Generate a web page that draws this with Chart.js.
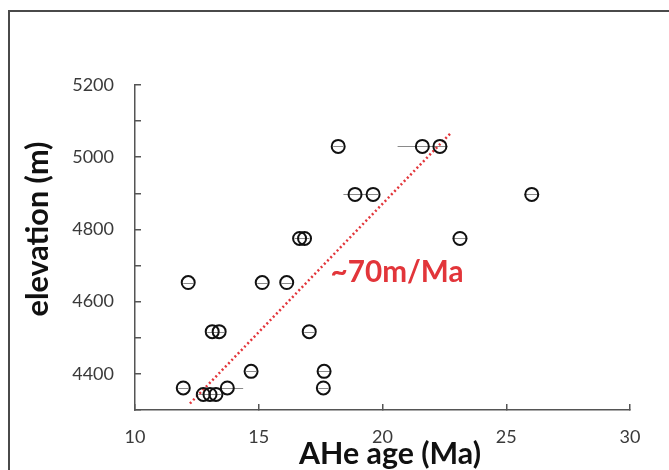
<!DOCTYPE html>
<html>
<head>
<meta charset="utf-8">
<script src="https://cdn.jsdelivr.net/npm/chart.js@4/dist/chart.umd.min.js"></script>
<style>
  html, body { margin: 0; padding: 0; background: #ffffff; }
  #wrap { width: 669px; height: 470px; position: relative; }
</style>
</head>
<body>
<div id="wrap"><canvas id="c" width="669" height="470"></canvas></div>
<script>
// ---- data ----
const ageMa      = [18.21, 21.61, 22.32, 18.89, 19.62, 26.03, 16.65, 16.85, 23.13, 12.15, 15.14, 16.13, 13.12, 13.40, 17.04, 14.69, 17.64, 11.95, 13.73, 17.61, 12.76, 13.03, 13.27];
const elevationM = [5030, 5030, 5030, 4897, 4897, 4897, 4775, 4775, 4775, 4653, 4653, 4653, 4517, 4517, 4517, 4407, 4407, 4361, 4361, 4361, 4343, 4343, 4343];
const ageErr     = [0.2, 1.0, 0.3, 0.47, 0.2, 0.3, 0.2, 0.2, 0.3, 0.2, 0.2, 0.2, 0.2, 0.2, 0.2, 0.2, 0.25, 0.2, 0.64, 0.2, 0.2, 0.2, 0.2];
const trendAge   = [12.22, 22.73];
const trendElev  = [4318, 5065];
const trendLabel = "~70m/Ma";
const xTitle = "AHe age (Ma)";
const yTitle = "elevation (m)";
const xTicks = [10, 15, 20, 25, 30];
const yLabelTicks = [4400, 4600, 4800, 5000, 5200];

const points = ageMa.map((x, i) => ({ x: x, y: elevationM[i] }));
const trend = trendAge.map((x, i) => ({ x: x, y: trendElev[i] }));

function fitFont(ctx, text, target, weight, family) {
  ctx.font = weight + " 100px " + family;
  const w = ctx.measureText(text).width;
  return 100 * target / w;
}

const frameAndText = {
  id: 'frameAndText',
  beforeDraw(chart) {
    const ctx = chart.ctx;
    ctx.save();
    ctx.fillStyle = '#ffffff';
    ctx.fillRect(0, 0, chart.width, chart.height);
    ctx.strokeStyle = '#4a4a4a';
    ctx.lineWidth = 2;
    ctx.strokeRect(9, 11, 700, 500);
    ctx.restore();
  },
  beforeDatasetsDraw(chart) {
    const ctx = chart.ctx;
    const xs = chart.scales.x, ys = chart.scales.y;
    ctx.save();
    ctx.strokeStyle = '#8a8a8a';
    ctx.lineWidth = 1;
    ageMa.forEach((x, i) => {
      const py = Math.round(ys.getPixelForValue(elevationM[i])) + 0.5;
      ctx.beginPath();
      ctx.moveTo(xs.getPixelForValue(x - ageErr[i]), py);
      ctx.lineTo(xs.getPixelForValue(x + ageErr[i]), py);
      ctx.stroke();
    });
    ctx.restore();
  },
  afterDraw(chart) {
    const ctx = chart.ctx;
    const fam = 'Lato, "Open Sans", sans-serif';
    ctx.save();
    // y title
    let s = fitFont(ctx, yTitle, 175, 'bold', fam);
    ctx.font = 'bold ' + s + 'px ' + fam;
    ctx.fillStyle = '#111111';
    ctx.textAlign = 'center';
    ctx.textBaseline = 'middle';
    ctx.translate(38, 229);
    ctx.rotate(-Math.PI / 2);
    ctx.fillText(yTitle, 0, 0);
    ctx.setTransform(1, 0, 0, 1, 0, 0);
    // x title
    s = fitFont(ctx, xTitle, 182, 'bold', fam);
    ctx.font = 'bold ' + s + 'px ' + fam;
    ctx.textBaseline = 'alphabetic';
    ctx.fillText(xTitle, 390, 464);
    // trend label
    s = fitFont(ctx, trendLabel, 133, 'bold', fam);
    ctx.font = 'bold ' + s + 'px ' + fam;
    ctx.fillStyle = '#e2353a';
    ctx.textBaseline = 'alphabetic';
    ctx.fillText(trendLabel, 397, 282);
    ctx.restore();
  }
};

new Chart(document.getElementById('c'), {
  type: 'scatter',
  data: {
    datasets: [
      {
        label: 'samples',
        data: points,
        pointStyle: 'circle',
        pointRadius: 6.5,
        pointHoverRadius: 6.5,
        pointBorderWidth: 2,
        borderColor: '#111111',
        backgroundColor: 'rgba(0,0,0,0)',
        order: 1
      },
      {
        label: 'trend',
        type: 'line',
        data: trend,
        showLine: true,
        pointRadius: 0,
        borderColor: '#e2353a',
        borderWidth: 2.5,
        borderDash: [2, 2.6],
        fill: false,
        order: 2
      }
    ]
  },
  options: {
    responsive: false,
    animation: false,
    devicePixelRatio: 1,
    layout: { padding: { left: 0, top: 85, right: 39, bottom: 0 } },
    plugins: { legend: { display: false }, tooltip: { enabled: false } },
    scales: {
      x: {
        type: 'linear',
        min: 10, max: 30,
        afterFit(scale) { scale.height = 60; },
        afterBuildTicks(scale) { scale.ticks = xTicks.map(v => ({ value: v })); },
        border: { display: true, color: '#555555', width: 1.5 },
        grid: { display: true, drawOnChartArea: false, drawTicks: true, tickLength: -6, color: '#555555', lineWidth: 1.5 },
        ticks: { padding: 22, color: '#3a3a3a', font: { family: 'Lato', size: 18 } }
      },
      y: {
        type: 'linear',
        min: 4300, max: 5200,
        afterFit(scale) { scale.width = 135; },
        ticks: {
          stepSize: 100,
          padding: 27,
          color: '#3a3a3a',
          font: { family: 'Lato', size: 18 },
          callback: (v) => yLabelTicks.includes(v) ? String(v) : ''
        },
        border: { display: true, color: '#555555', width: 1.5 },
        grid: { display: true, drawOnChartArea: false, drawTicks: true, tickLength: -6, color: '#555555', lineWidth: 1.5 }
      }
    }
  },
  plugins: [frameAndText]
});
</script>
</body>
</html>
